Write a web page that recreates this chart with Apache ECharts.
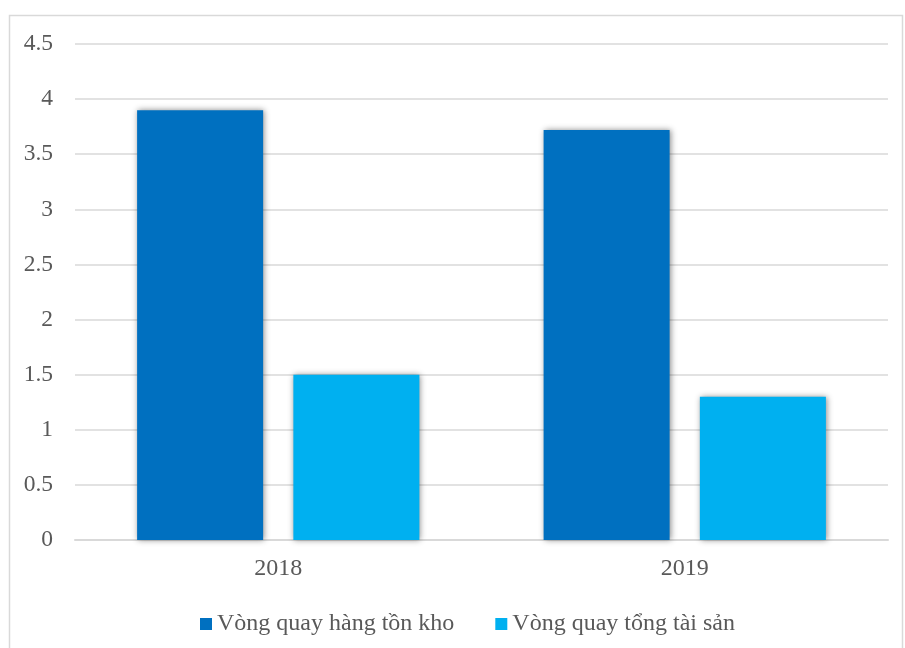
<!DOCTYPE html>
<html>
<head>
<meta charset="utf-8">
<style>
  html, body { margin: 0; padding: 0; background: #ffffff; }
  #chart { width: 905px; height: 648px; }
</style>
<script src="https://cdn.jsdelivr.net/npm/echarts@6/dist/echarts.min.js"></script>
</head>
<body>
<div id="chart"></div>
<script>
// Years on the category axis
const years = ['2018', '2019'];
// Inventory turnover
const inventoryTurnover = [3.9, 3.72];
// Total asset turnover
const assetTurnover = [1.5, 1.3];
// Value axis ticks
const yMin = 0, yMax = 4.5, yStep = 0.5;

const font = '"Liberation Serif", "Times New Roman", serif';
const barShadow = {
  shadowColor: 'rgba(0,0,0,0.45)',
  shadowBlur: 6,
  shadowOffsetX: 1,
  shadowOffsetY: 0
};

const chart = echarts.init(document.getElementById('chart'), null, { renderer: 'canvas' });
chart.setOption({
  animation: false,
  backgroundColor: '#ffffff',
  textStyle: { fontFamily: font },
  graphic: [{
    type: 'rect',
    left: 7, top: 13,
    shape: { width: 893, height: 650 },
    style: { fill: 'none', stroke: '#d9d9d9', lineWidth: 1.5 },
    silent: true,
    z: -1
  }],
  grid: { left: 75, right: 17, top: 44, bottom: 108, containLabel: false },
  legend: {
    top: 607,
    left: 195,
    itemWidth: 12,
    itemHeight: 12,
    itemGap: 41,
    icon: 'rect',
    textStyle: { fontFamily: font, fontSize: 24, color: '#595959' },
    data: ['Vòng quay hàng tồn kho', 'Vòng quay tổng tài sản']
  },
  xAxis: {
    type: 'category',
    data: years,
    axisLine: { show: true, lineStyle: { color: '#d9d9d9', width: 2 } },
    axisTick: { show: false },
    axisLabel: { fontFamily: font, fontSize: 24, color: '#595959', margin: 17 }
  },
  yAxis: {
    type: 'value',
    min: yMin, max: yMax, interval: yStep,
    axisLine: { show: false },
    axisTick: { show: false },
    splitLine: { lineStyle: { color: '#d9d9d9', width: 1.5 } },
    axisLabel: { fontFamily: font, fontSize: 23.5, color: '#595959', margin: 22 }
  },
  series: [
    {
      name: 'Vòng quay hàng tồn kho',
      type: 'bar',
      data: inventoryTurnover,
      barWidth: '31%',
      barGap: '24%',
      itemStyle: Object.assign({ color: '#0070C0' }, barShadow)
    },
    {
      name: 'Vòng quay tổng tài sản',
      type: 'bar',
      data: assetTurnover,
      barWidth: '31%',
      itemStyle: Object.assign({ color: '#00B0F0' }, barShadow)
    }
  ]
});
</script>
</body>
</html>
